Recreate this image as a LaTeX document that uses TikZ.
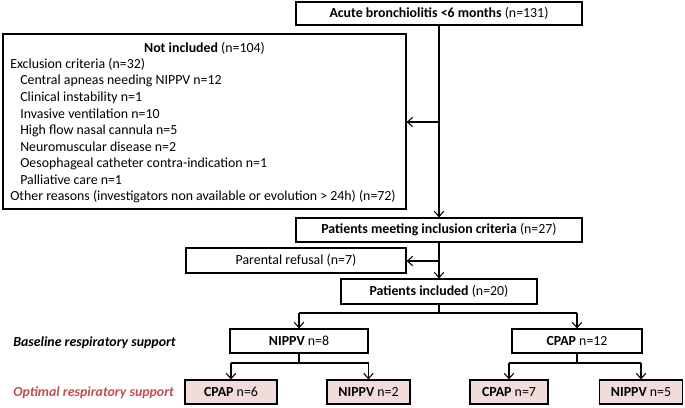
\documentclass[tikz,border=0pt]{standalone}
\usepackage{fontspec}
\setmainfont{Carlito}
\usetikzlibrary{arrows.meta}
\definecolor{optred}{HTML}{C0504D}
\definecolor{optfill}{HTML}{F2DCDB}
\begin{document}
\begin{tikzpicture}[x=0.75pt,y=-0.75pt,
  every node/.style={font=\fontsize{10.4}{12}\selectfont, inner sep=0pt},
  box/.style={draw, line width=0.8pt, rectangle, align=center},
  optbox/.style={box, fill=optfill},
  arr/.style={line width=0.8pt, -{Straight Barb[length=4pt,width=7pt,line width=0.8pt]}},
  ln/.style={line width=0.8pt},
  item/.style={anchor=west}]
\useasboundingbox (0,0) rectangle (685,407);
% boxes
\node[box, minimum width=286*0.75pt, minimum height=23*0.75pt] (b1) at (439,13.5) {\textbf{Acute bronchiolitis <6 months} (n=131)};
\node[box, minimum width=403*0.75pt, minimum height=175*0.75pt] (notinc) at (204.5,121.5) {};
\node[box, minimum width=286*0.75pt, minimum height=24*0.75pt] (meet) at (439,230) {\textbf{Patients meeting inclusion criteria} (n=27)};
\node[box, minimum width=220*0.75pt, minimum height=25*0.75pt] (refusal) at (296,260.5) {Parental refusal (n=7)};
\node[box, minimum width=196*0.75pt, minimum height=25*0.75pt] (incl) at (439,291.5) {\textbf{Patients included} (n=20)};
\node[box, minimum width=138*0.75pt, minimum height=24*0.75pt] (nippv8) at (299,341) {\textbf{NIPPV} n=8};
\node[box, minimum width=130*0.75pt, minimum height=24*0.75pt] (cpap12) at (577,341) {\textbf{CPAP} n=12};
\node[optbox, minimum width=92*0.75pt, minimum height=24*0.75pt] (cpap6) at (231,392) {\textbf{CPAP} n=6};
\node[optbox, minimum width=83*0.75pt, minimum height=24*0.75pt] (nippv2) at (368.5,392) {\textbf{NIPPV} n=2};
\node[optbox, minimum width=78*0.75pt, minimum height=24*0.75pt] (cpap7) at (509,392) {\textbf{CPAP} n=7};
\node[optbox, minimum width=83*0.75pt, minimum height=24*0.75pt] (nippv5) at (641,392) {\textbf{NIPPV} n=5};
% texts in Not included
\node (t0) at (204.5,48) {\textbf{Not included} (n=104)};
\node[item] (t1) at (10,64.5) {Exclusion criteria (n=32)};
\node[item] (t2) at (20,81) {Central apneas needing NIPPV n=12};
\node[item] (t3) at (20,97.5) {Clinical instability n=1};
\node[item] (t4) at (20,114) {Invasive ventilation n=10};
\node[item] (t5) at (20,130.5) {High flow nasal cannula n=5};
\node[item] (t6) at (20,147) {Neuromuscular disease n=2};
\node[item] (t7) at (20,163.5) {Oesophageal catheter contra-indication n=1};
\node[item] (t8) at (20,180) {Palliative care n=1};
\node[item] (t9) at (10,196.5) {Other reasons (investigators non available or evolution > 24h) (n=72)};
% side labels
\node[anchor=west] (base) at (13,343) {\textbf{\itshape Baseline respiratory support}};
\node[anchor=west, text=optred] (opt) at (13,393) {\textbf{\itshape Optimal respiratory support}};
% coordinates
\coordinate (j1) at (439,122);
\coordinate (j2) at (439,261);
\coordinate (s1) at (439,313);
\coordinate (s1l) at (299,313);
\coordinate (s1r) at (577,313);
\coordinate (s2) at (299,363);
\coordinate (s2l) at (231,363);
\coordinate (s2r) at (368.5,363);
\coordinate (s3) at (577,363);
\coordinate (s3l) at (509,363);
\coordinate (s3r) at (641,363);
% connectors
\draw[arr] (b1.south) -- (meet.north);
\draw[arr] (j1) -- (notinc.east |- j1);
\draw[arr] (meet.south) -- (incl.north);
\draw[arr] (j2) -- (refusal.east |- j2);
\draw[ln] (incl.south) -- (s1);
\draw[ln] (s1l) -- (s1r);
\draw[arr] (s1l) -- (nippv8.north);
\draw[arr] (s1r) -- (cpap12.north);
\draw[ln] (nippv8.south) -- (s2);
\draw[ln] (s2l) -- (s2r);
\draw[arr] (s2l) -- (cpap6.north);
\draw[arr] (s2r) -- (nippv2.north);
\draw[ln] (cpap12.south) -- (s3);
\draw[ln] (s3l) -- (s3r);
\draw[arr] (s3l) -- (cpap7.north);
\draw[arr] (s3r) -- (nippv5.north);
\end{tikzpicture}
\end{document}
